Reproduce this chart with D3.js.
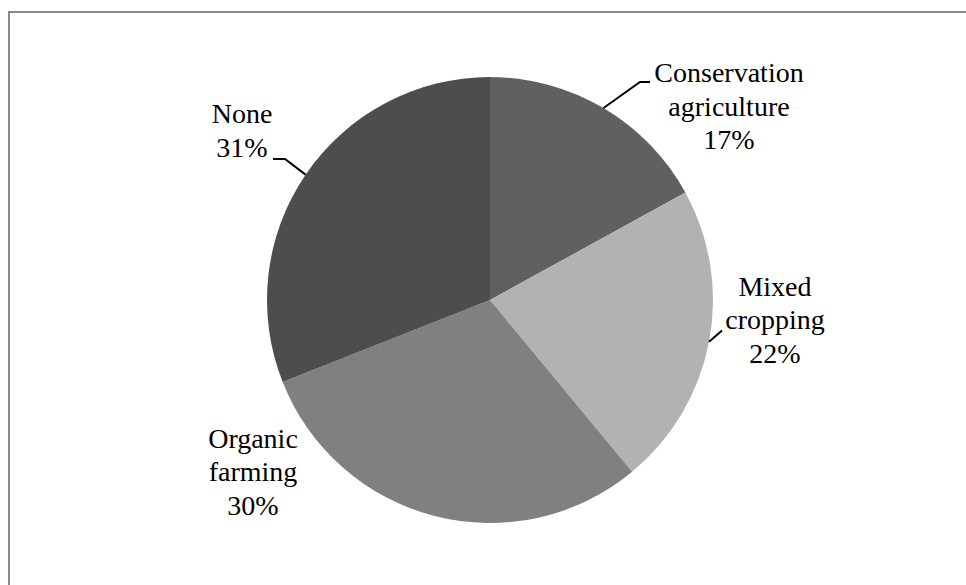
<!DOCTYPE html>
<html>
<head>
<meta charset="utf-8">
<script src="https://cdn.jsdelivr.net/npm/d3@7/dist/d3.min.js"></script>
</head>
<body style="margin:0;background:#fff">
<svg id="chart" width="966" height="585" style="display:block"></svg>
<script>
// Farming practices adopted (share of respondents)
const categories = ["Conservation agriculture", "Mixed cropping", "Organic farming", "None"];
const shares = [17, 22, 30, 31];
const labelLines = [["Conservation", "agriculture"], ["Mixed", "cropping"], ["Organic", "farming"], ["None"]];
const colors = ["#606060", "#b2b2b2", "#808080", "#4d4d4d"];

// Layout: label block placement relative to pie centre (first-line baseline),
// and leader elbow offsets relative to that same anchor (null = no leader).
const labelLayout = [
  { dx: 239, dy: -218, leader: [[-89, 0], [-79, 0]] },
  { dx: 285, dy: -4.5, leader: [[-53, 35]] },
  { dx: -237, dy: 147.5, leader: null },
  { dx: -248, dy: -177, leader: [[43, 36], [31, 36]] }
];

const cx = 490, cy = 300, R = 223, lineH = 33.5;

const svg = d3.select("#chart");

// Frame around the plot area (extends past the right and bottom edges)
svg.append("rect")
  .attr("x", 9).attr("y", 12)
  .attr("width", 1200).attr("height", 1200)
  .attr("fill", "none")
  .attr("stroke", "#888")
  .attr("stroke-width", 2);

const pie = d3.pie().sort(null).value(d => d)(shares);
const arc = d3.arc().innerRadius(0).outerRadius(R);
const edge = d3.arc().innerRadius(R).outerRadius(R);

const g = svg.append("g").attr("transform", `translate(${cx},${cy})`);

g.selectAll("path.slice")
  .data(pie)
  .join("path")
  .attr("class", "slice")
  .attr("d", arc)
  .attr("fill", (d, i) => colors[i]);

// Leader lines: slice outer midpoint -> elbow -> label end
pie.forEach((d, i) => {
  const lay = labelLayout[i];
  if (!lay.leader) return;
  const pts = [edge.centroid(d)].concat(lay.leader.map(p => [lay.dx + p[0], lay.dy + p[1]]));
  g.append("path")
    .attr("d", d3.line()(pts))
    .attr("fill", "none")
    .attr("stroke", "#000")
    .attr("stroke-width", 2);
});

// Data labels: name lines plus percentage, one text element per line
pie.forEach((d, i) => {
  const lay = labelLayout[i];
  const lines = labelLines[i].concat([d3.format(".0f")(shares[i]) + "%"]);
  lines.forEach((s, k) => {
    g.append("text")
      .attr("x", lay.dx)
      .attr("y", lay.dy + k * lineH)
      .attr("text-anchor", "middle")
      .style("font-family", '"Liberation Serif"')
      .style("font-size", "28px")
      .style("fill", "#000")
      .text(s);
  });
});
</script>
</body>
</html>
